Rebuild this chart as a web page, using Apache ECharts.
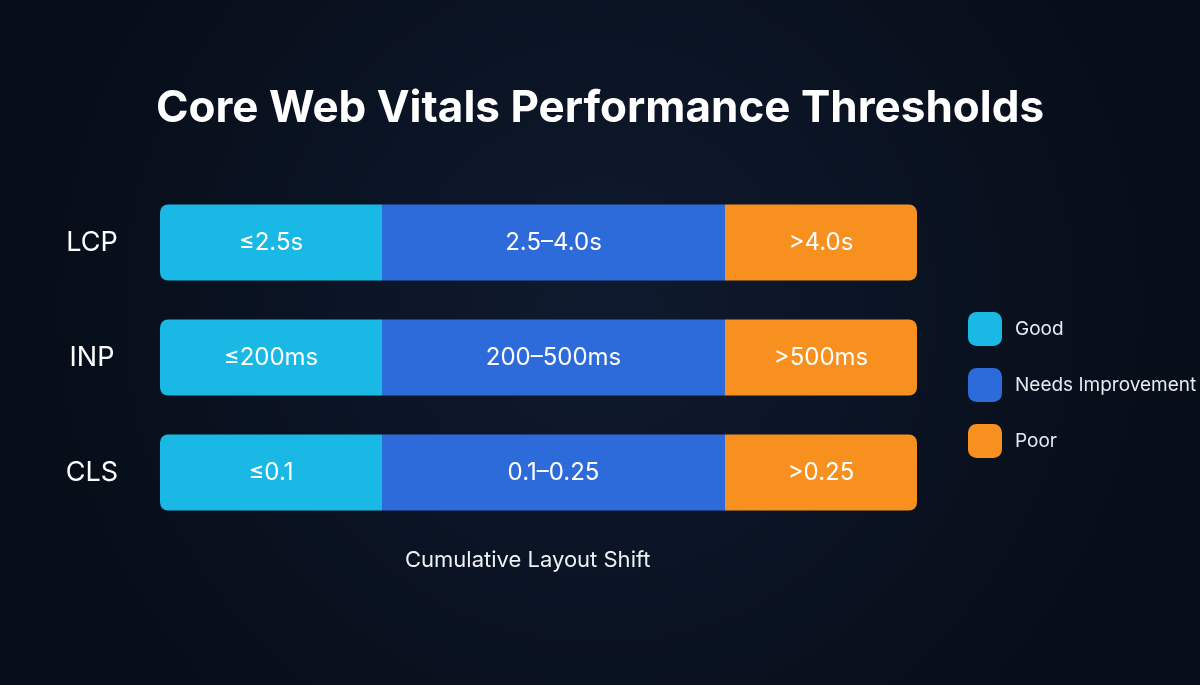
<!DOCTYPE html>
<html><head><meta charset="utf-8">
<script src="https://cdn.jsdelivr.net/npm/echarts@6/dist/echarts.min.js"></script>
<style>html,body{margin:0;padding:0;background:#0a1322;}#c{width:1200px;height:685px;}</style>
</head><body><div id="c"></div>
<script>
const metrics = ['LCP', 'INP', 'CLS'];
const goodWidth = [222, 222, 222];
const needsWidth = [343, 343, 343];
const poorWidth = [192, 192, 192];
const goodLabels = ['≤2.5s', '≤200ms', '≤0.1'];
const needsLabels = ['2.5–4.0s', '200–500ms', '0.1–0.25'];
const poorLabels = ['>4.0s', '>500ms', '>0.25'];

const chart = echarts.init(document.getElementById('c'));
const font = 'Inter, "Noto Sans", sans-serif';
function mk(name, vals, labels, color, radius) {
  return {
    name, type: 'bar', stack: 'a', barWidth: 76, data: vals,
    itemStyle: { color, borderRadius: radius },
    label: { show: true, position: 'inside', color: '#fff', fontSize: 24, fontFamily: font,
      formatter: p => labels[p.dataIndex] }
  };
}
chart.setOption({
  backgroundColor: {type:'radial', x:0.5, y:0.45, r:0.8, colorStops:[{offset:0,color:'#0f1a2e'},{offset:1,color:'#070e1a'}]},
  title: { text: 'Core Web Vitals Performance Thresholds', left: 'center', top: 82,
    textStyle: { color: '#fff', fontSize: 44, fontWeight: 'bold', fontFamily: font } },
  legend: { orient: 'vertical', left: 963, top: 307, itemWidth: 34, itemHeight: 34, itemGap: 22,
    icon: 'roundRect', textStyle: { color: '#e6e9ef', fontSize: 19, fontFamily: font, padding:[0,0,0,8] } },
  grid: { left: 160, right: 283, top: 185, bottom: 155 },
  xAxis: { type: 'value', min: 0, max: 757, show: false },
  yAxis: { type: 'category', data: metrics, inverse: true,
    axisLine: { show: false }, axisTick: { show: false },
    axisLabel: { color: '#fff', fontSize: 27, fontFamily: font, margin: 68, align: 'center' } },
  graphic: [{ type: 'text', left: 405, top: 549, style: { text: 'Cumulative Layout Shift', fill: '#eef1f5', fontSize: 22, fontFamily: font } }],
  series: [
    mk('Good', goodWidth, goodLabels, '#1ab8e4', [8,0,0,8]),
    mk('Needs Improvement', needsWidth, needsLabels, '#2c6bd9', 0),
    mk('Poor', poorWidth, poorLabels, '#f7901f', [0,8,8,0])
  ]
});
</script></body></html>
